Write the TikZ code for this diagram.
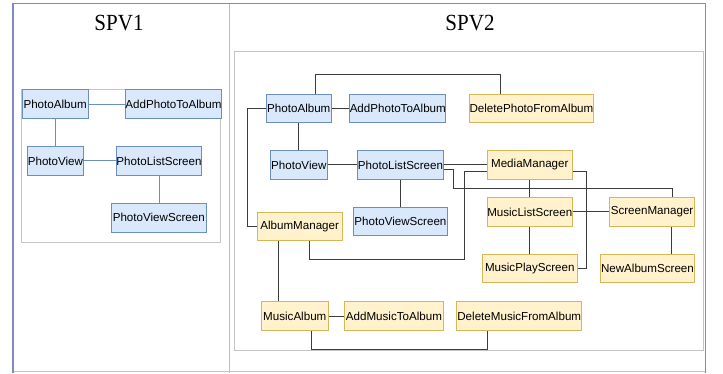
\documentclass[tikz,border=0pt]{standalone}
\usepackage{fontspec}
\setmainfont{Liberation Serif}
\newfontfamily\boxfont{Liberation Sans}
\usetikzlibrary{calc}

\definecolor{bluefill}{HTML}{DAE8FC}
\definecolor{bluestroke}{HTML}{6C8EBF}
\definecolor{yelfill}{HTML}{FFF2CC}
\definecolor{yelstroke}{HTML}{D6B656}
\definecolor{framecol}{HTML}{7D8CBF}
\definecolor{dividercol}{HTML}{B4BCD6}
\definecolor{panelcol}{HTML}{C4C4C4}
\definecolor{wirecol}{HTML}{3C3C3C}

\tikzset{
  cls/.style={draw, line width=0.9pt, inner sep=0pt, anchor=north west,
    font=\boxfont\fontsize{11.6}{12}\selectfont, text=black},
  bluebox/.style={cls, fill=bluefill, draw=bluestroke},
  yelbox/.style={cls, fill=yelfill, draw=yelstroke},
  wire/.style={draw=wirecol, line width=1pt},
  bluewire/.style={draw=bluestroke, line width=1pt},
  panel/.style={draw=panelcol, line width=0.8pt},
  title/.style={font=\fontsize{21}{24}\selectfont}
}

\begin{document}
\begin{tikzpicture}[x=1pt, y=-1pt]
\useasboundingbox (0,0) rectangle (723,373);

% outer frame with two columns
\draw[dividercol, line width=1pt] (229,3.5) -- (229,373);
\draw[panelcol, line width=1pt] (13,371.8) -- (705.5,371.8);
\draw[framecol, line width=1.1pt] (13,373) -- (13,3.5) -- (705.5,3.5) -- (705.5,373);

\node[title] (t1) at (119,23) {\scalebox{1}[1.1]{SPV1}};
\node[title] (t2) at (470,23) {\scalebox{1}[1.1]{SPV2}};

% ---------- SPV1 ----------
\draw[panel] (21.7,89.3) rectangle (220,242);

\node[bluebox, minimum width=66pt,   minimum height=29pt] (a1) at (21.7,89.3)  {PhotoAlbum};
\node[bluebox, minimum width=94.3pt, minimum height=29pt] (b1) at (125,89.3)   {AddPhotoToAlbum};
\node[bluebox, minimum width=56.6pt, minimum height=29pt] (c1) at (26.7,146)   {PhotoView};
\node[bluebox, minimum width=84.7pt, minimum height=29pt] (d1) at (116,146)    {PhotoListScreen};
\node[bluebox, minimum width=94.7pt, minimum height=29pt] (e1) at (111,202.7)  {PhotoViewScreen};

\draw[bluewire] (a1.east) -- (b1.west);
\draw[bluewire] (a1.south) -- (a1.south |- c1.north);
\draw[bluewire] (c1.east) -- (d1.west);
\draw[bluewire] (d1.south) -- (d1.south |- e1.north);

% ---------- SPV2 ----------
\draw[panel] (234.3,51.3) rectangle (703,350.3);

\node[bluebox, minimum width=65.3pt,  minimum height=28pt]   (pa)  at (265.7,94)    {PhotoAlbum};
\node[bluebox, minimum width=94pt,    minimum height=28pt]   (ap)  at (349.3,94)    {AddPhotoToAlbum};
\node[yelbox,  minimum width=124.6pt, minimum height=28pt]   (dp)  at (468.7,94)    {DeletePhotoFromAlbum};
\node[bluebox, minimum width=56.7pt,  minimum height=28.4pt] (pv)  at (270,150.3)   {PhotoView};
\node[bluebox, minimum width=85.4pt,  minimum height=28.4pt] (pl)  at (357.3,150.3) {PhotoListScreen};
\node[yelbox,  minimum width=85.3pt,  minimum height=28.4pt] (mm)  at (486.7,150.3) {MediaManager};
\node[yelbox,  minimum width=85.3pt,  minimum height=28.4pt] (ml)  at (486.7,197.3) {MusicListScreen};
\node[yelbox,  minimum width=84.7pt,  minimum height=28.4pt] (sm)  at (609.3,197.3) {ScreenManager};
\node[yelbox,  minimum width=94.7pt,  minimum height=28pt]   (mp)  at (482,254.3)   {MusicPlayScreen};
\node[yelbox,  minimum width=94pt,    minimum height=28pt]   (na)  at (600,254.3)   {NewAlbumScreen};
\node[yelbox,  minimum width=85pt,    minimum height=28.3pt] (am)  at (256.7,211.7) {AlbumManager};
\node[bluebox, minimum width=94.6pt,  minimum height=28.6pt] (pvs) at (352.7,206.7) {PhotoViewScreen};
\node[yelbox,  minimum width=66.7pt,  minimum height=29pt]   (ma)  at (261,301.3)   {MusicAlbum};
\node[yelbox,  minimum width=98.4pt,  minimum height=29pt]   (amu) at (344.3,301.3) {AddMusicToAlbum};
\node[yelbox,  minimum width=125pt,   minimum height=29pt]   (dm)  at (456.3,301.3) {DeleteMusicFromAlbum};

% guide coordinates for the routed connectors
\coordinate (xa) at (315,0);
\coordinate (xb) at (500,0);
\coordinate (xc) at (247.3,0);
\coordinate (xd) at (453.3,0);
\coordinate (xe) at (672.7,0);
\coordinate (xf) at (464,0);
\coordinate (xg) at (309.3,0);
\coordinate (xh) at (586.7,0);
\coordinate (xi) at (671,0);
\coordinate (xj) at (278.3,0);
\coordinate (xk) at (311,0);
\coordinate (xl) at (487.7,0);
\coordinate (ya) at (0,74.3);
\coordinate (yb) at (0,169.3);
\coordinate (yc) at (0,188.3);
\coordinate (yd) at (0,171.7);
\coordinate (ye) at (0,259);
\coordinate (yf) at (0,349);

\draw[wire] (pa.north -| xa) |- (ya -| xb) -- (dp.north -| xb);
\draw[wire] (pa.east) -- (ap.west);
\draw[wire] (pa.west) -| (xc |- am.west) -- (am.west);
\draw[wire] (pa.south) -- (pa.south |- pv.north);
\draw[wire] (pv.east) -- (pv.east -| pl.west);
\draw[wire] (pl.east) -- (pl.east -| mm.west);
\draw[wire] (pl.east |- yb) -| (xd |- yc) -| (sm.north -| xe);
\draw[wire] (mm.west |- yd) -| (xf |- ye) -| (am.south -| xg);
\draw[wire] (mm.east |- yd) -| (xh |- mp.east) -- (mp.east);
\draw[wire] (mm.south) -- (ml.north);
\draw[wire] (ml.east) -- (sm.west);
\draw[wire] (ml.south) -- (ml.south |- mp.north);
\draw[wire] (sm.south -| xi) -- (na.north -| xi);
\draw[wire] (pl.south -| pvs.north) -- (pvs.north);
\draw[wire] (am.south -| xj) -- (ma.north -| xj);
\draw[wire] (ma.east) -- (ma.east -| amu.west);
\draw[wire] (ma.south -| xk) |- (yf -| xl) -- (dm.south -| xl);
\end{tikzpicture}
\end{document}
